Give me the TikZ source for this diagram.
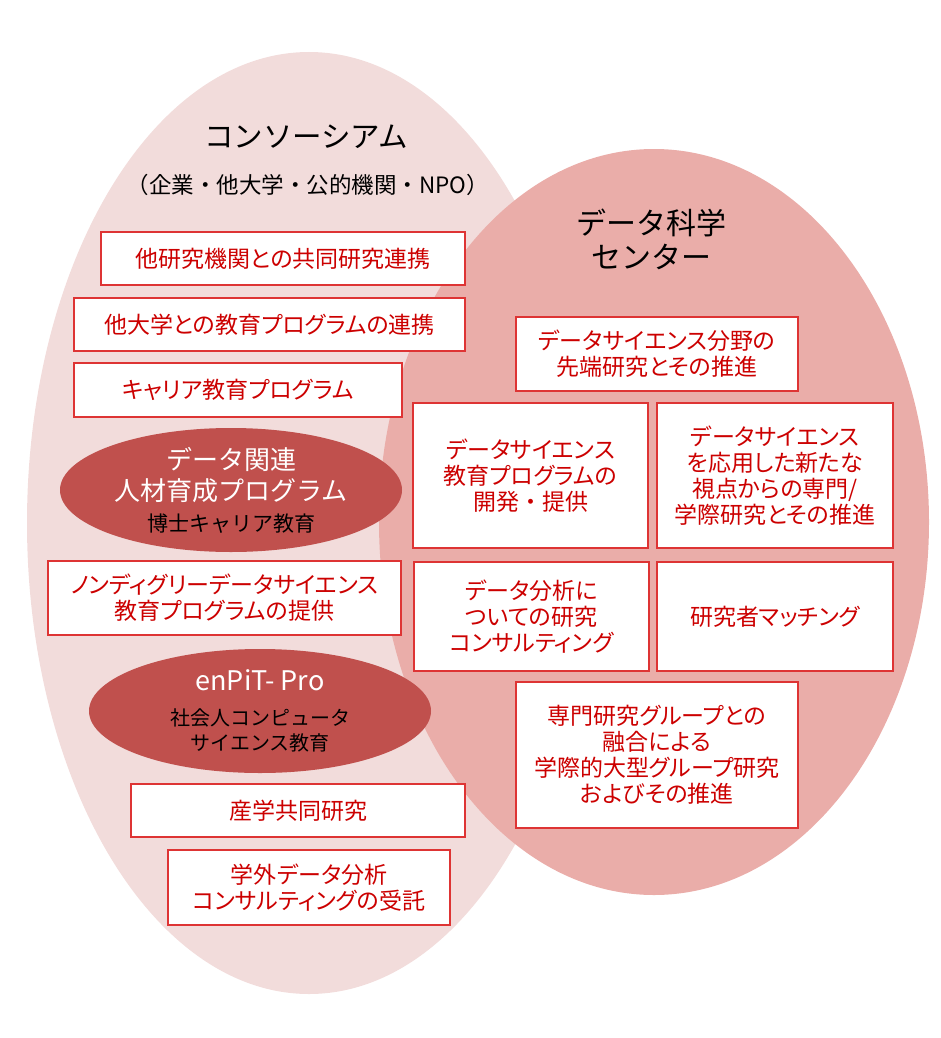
\documentclass[tikz,border=0pt]{standalone}
\usepackage{fontspec}
\usepackage{tikz}
\usetikzlibrary{shapes.geometric}
\newfontfamily\cjk{Noto Sans CJK JP}
\newfontfamily\cjkp[RawFeature=+palt]{Noto Sans CJK JP}
\definecolor{paleback}{RGB}{242,220,219}
\definecolor{roseback}{RGB}{234,173,169}
\definecolor{darkrose}{RGB}{192,80,77}
\definecolor{boxline}{RGB}{222,52,52}
\definecolor{boxtext}{RGB}{204,0,0}
\tikzset{
  box/.style={draw=boxline,fill=white,line width=1.5pt,text=boxtext,align=center,
    inner sep=0pt,font=\cjkp\fontsize{23}{26}\selectfont},
  blob/.style={ellipse,fill=darkrose,inner sep=0pt,align=center,
    minimum width=342pt,minimum height=124pt}
}
\begin{document}
\begin{tikzpicture}[x=1pt,y=-1pt]
  \useasboundingbox (0,0) rectangle (940,1038);
  \fill[paleback] (309,523) ellipse [x radius=282,y radius=471];
  \fill[roseback] (654,522) ellipse [x radius=275,y radius=373];
  \node[font=\cjk\fontsize{29.5}{34}\selectfont] (K-0) at (306,137) {コンソーシアム};
  \node[font=\cjk\fontsize{22.5}{23}\selectfont] (K-00) at (308,185) {（企業・他大学・公的機関・NPO）};
  \node[font=\cjk\fontsize{30}{34}\selectfont,align=center] (D-0) at (651,239) {データ科学\\センター};
  \node[box,minimum width=364pt,minimum height=53pt] (K-1) at (283,258.5) {他研究機関との共同研究連携};
  \node[box,minimum width=391pt,minimum height=53pt] (K-2) at (269.5,324.5) {他大学との教育プログラムの連携};
  \node[box,minimum width=328pt,minimum height=54pt] (K-3) at (238,390) {キャリア教育プログラム};
  \node[box,minimum width=353pt,minimum height=74pt] (K-4) at (224.5,598) {ノンディグリーデータサイエンス\\教育プログラムの提供};
  \node[box,minimum width=334pt,minimum height=53pt] (K-5) at (298,810.5) {産学共同研究};
  \node[box,minimum width=282pt,minimum height=75pt] (K-6) at (309,887.5) {学外データ分析\\コンサルティングの受託};
  \node[box,minimum width=282pt,minimum height=74pt] (D-1) at (657,354) {データサイエンス分野の\\先端研究とその推進};
  \node[box,minimum width=235pt,minimum height=145pt] (D-2) at (530.5,475.5) {データサイエンス\\教育プログラムの\\開発{\cjk ・}提供};
  \node[box,minimum width=236pt,minimum height=145pt] (D-3) at (775,475.5) {データサイエンス\\を応用した新たな\\視点からの専門/\\学際研究とその推進};
  \node[box,minimum width=235pt,minimum height=109pt] (D-4) at (531.5,616.5) {データ分析に\\ついての研究\\コンサルティング};
  \node[box,minimum width=236pt,minimum height=109pt] (D-5) at (775,616.5) {研究者マッチング};
  \node[box,minimum width=282pt,minimum height=146pt] (D-6) at (657,755) {専門研究グループとの\\融合による\\学際的大型グループ研究\\およびその推進};
  \node[blob,font=\cjk\fontsize{26}{31}\selectfont] (E-1) at (231,490) {\color{white}データ関連\\
    \color{white}人材育成プログラム\\
    \fontsize{21}{25}\selectfont\color{black}博士キャリア教育};
  \node[blob,font=\cjk\fontsize{20}{25}\selectfont] (E-2) at (260,711) {\fontsize{27}{31}\selectfont\color{white}enPiT- Pro\\[10pt]
    \color{black}社会人コンピュータ\\
    \color{black}サイエンス教育};
\end{tikzpicture}
\end{document}
